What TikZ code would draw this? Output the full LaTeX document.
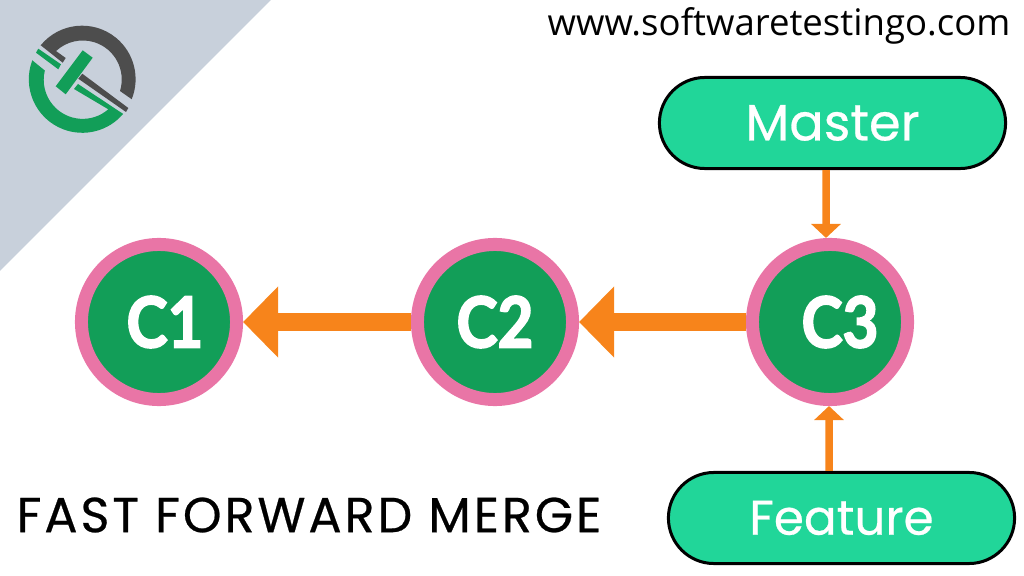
\documentclass[tikz,border=0pt]{standalone}
\usepackage{fontspec}
\usetikzlibrary{arrows.meta}
\setmainfont{Open Sans}
\newfontfamily\labelfont[FakeBold=0.5]{Poppins}
\newfontfamily\commitfont[FakeStretch=0.88,FakeBold=2.5]{Lato}
\newfontfamily\titlefont[LetterSpace=6,FakeBold=0.5]{Poppins}
\definecolor{bannergray}{HTML}{C8D0DB}
\definecolor{logogray}{HTML}{4D4D4D}
\definecolor{commitgreen}{HTML}{129E58}
\definecolor{ringpink}{HTML}{E975A6}
\definecolor{branchgreen}{HTML}{21D699}
\definecolor{arroworange}{HTML}{F7841B}
\tikzset{
    commit/.style={circle, draw=ringpink, fill=commitgreen, line width=0.13cm,
        minimum size=1.55cm, inner sep=0pt, text=white,
        font=\commitfont\bfseries\fontsize{20}{20}\selectfont},
    branch/.style={rectangle, draw=black, fill=branchgreen, line width=0.03cm,
        rounded corners=0.455cm, minimum width=3.46cm, minimum height=0.91cm,
        inner sep=0pt, text=white,
        font=\labelfont\fontsize{14.5}{14.5}\selectfont},
    mainarrow/.style={-{Triangle[length=0.35cm,width=0.69cm]}, line width=0.18cm, arroworange},
    pointer/.style={-{Triangle[length=0.14cm,width=0.29cm]}, line width=0.075cm, arroworange},
}

\begin{document}
\begin{tikzpicture}[x=0.01cm,y=-0.01cm]
\useasboundingbox (0,0) rectangle (1024,576);

    \fill [bannergray] (0,0) -- (271,0) -- (0,271) -- cycle;     % corner banner

    % logo
    \fill [logogray] (40.7,45.3) arc [start angle=-140.7, end angle=22, radius=53.5]
        -- (120,91) arc [start angle=17.2, end angle=-133.2, radius=39]
        -- (65.7,58) -- (62.7,62.7) -- cycle;
    \fill [commitgreen] (32.3,60.3) arc [start angle=200.8, end angle=40.3, radius=53.5]
        -- (78,84) -- (74,89) -- (108.3,109.3)
        arc [start angle=49, end angle=193.8, radius=39] -- cycle;
    \fill [commitgreen] (38.3,48.7) -- (36,52.7) -- (58.3,69.3) -- (61,64.3) -- cycle;
    \fill [logogray] (82.3,73.7) -- (128.3,108) -- (126,112) -- (78.3,78.7) -- cycle;
    \fill [commitgreen] (82.7,50.3) -- (92.7,57.7) -- (65.7,94.3) -- (55.7,86.3) -- cycle;

    \node [commit] (c1) at (159,322) {\hspace{0.12cm}C1};
    \node [commit] (c2) at (495,322) {C2};
    \node [commit] (c3) at (830,322) {\hspace{0.2cm}C3};

    \node [branch] (master) at (832.5,123) {Master};
    \node [branch] (feature) at (841.5,518) {\fontsize{13.8}{13.8}\selectfont Feature};

    \draw [mainarrow] (c2) -- (c1);
    \draw [mainarrow] (c3) -- (c2);
    \draw [pointer] ([xshift=-0.065cm]master.south) -- ([xshift=-0.04cm]c3.north);
    \draw [pointer] ([xshift=-0.125cm]feature.north) -- ([xshift=-0.01cm]c3.south);

    \node (site) at (779,26) {\fontsize{10.4}{10.4}\selectfont www.softwaretestingo.com};
    \node (title) at (309,515) {\titlefont\fontsize{14}{14}\selectfont FAST FORWARD MERGE};

\end{tikzpicture}
\end{document}
